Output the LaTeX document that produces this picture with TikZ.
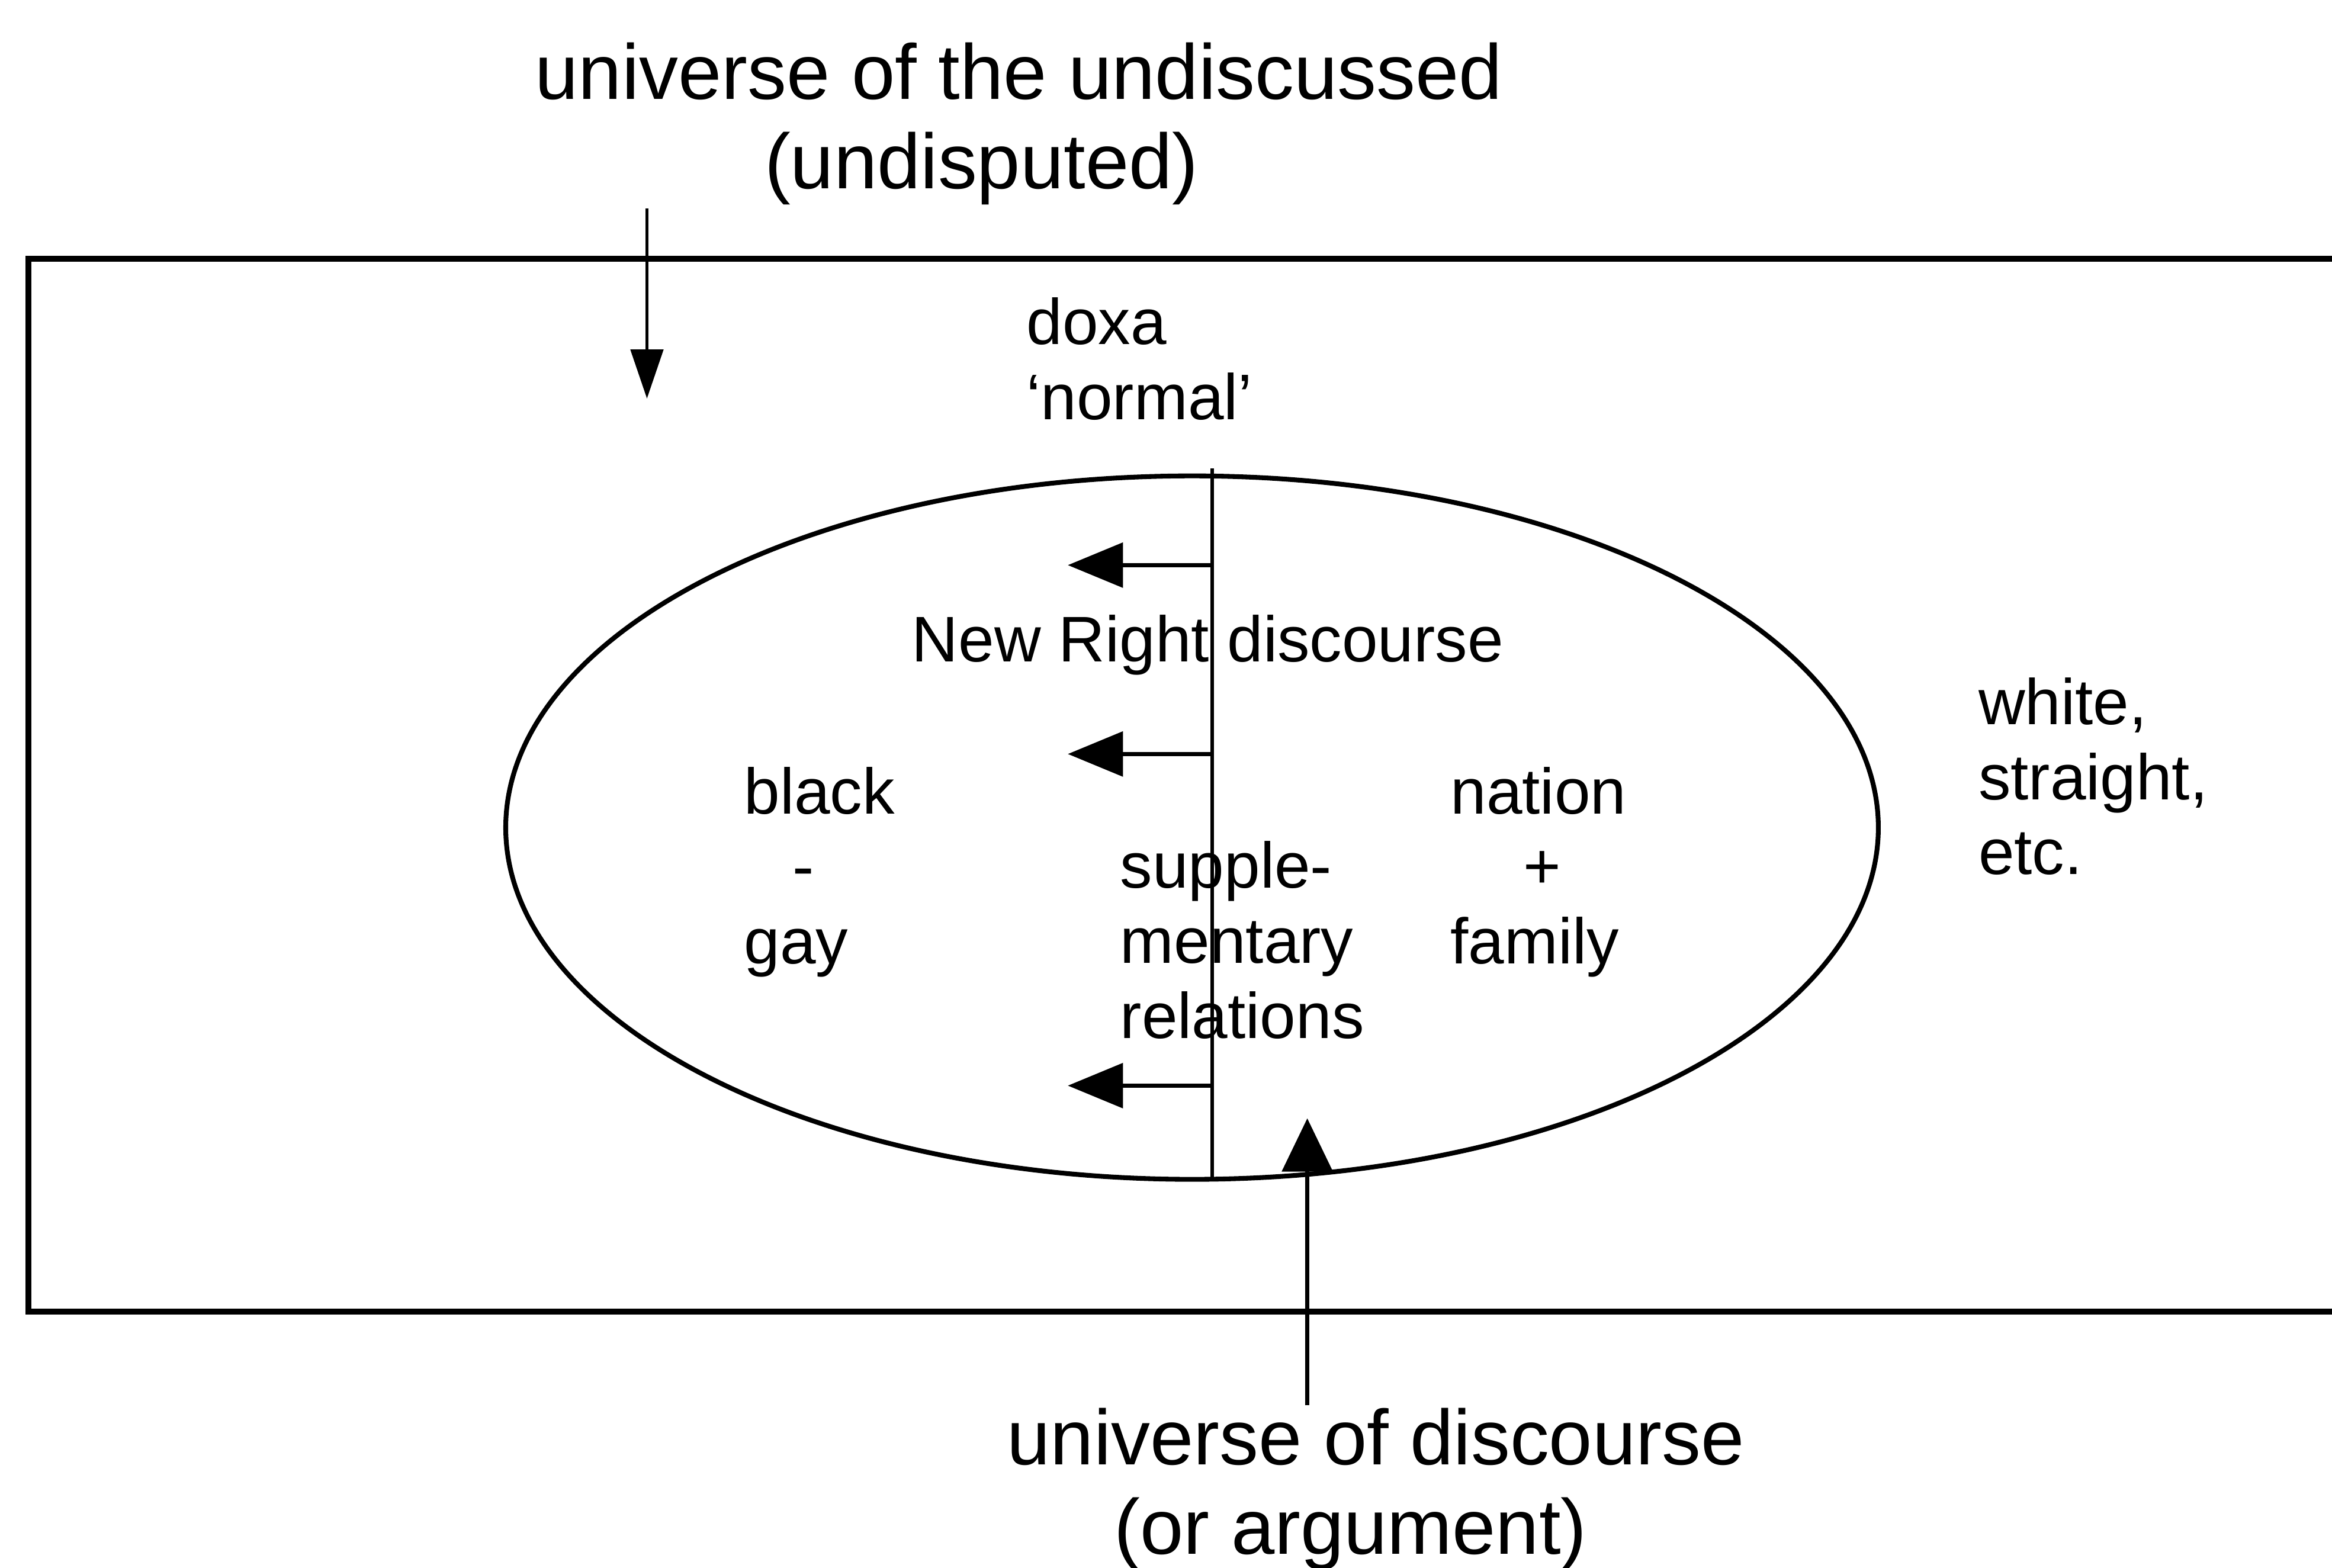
\documentclass[tikz,border=0pt]{standalone}
\usepackage{fontspec}
\setmainfont{Liberation Sans}
\usetikzlibrary{arrows.meta, shapes.geometric}

\begin{document}
\begin{tikzpicture}[
      x=0.025115cm, y=-0.025115cm,
      word/.style={inner sep=0pt, align=left, font=\fontsize{31}{36}\selectfont},
      caption/.style={inner sep=0pt, align=center, font=\fontsize{37.5}{43}\selectfont},
      frame/.style={draw, line width=2.9pt},
      push/.style={-{Triangle[length=0.93cm, width=0.75cm]}, line width=2pt}
    ]
    \useasboundingbox (0,0) rectangle (1568,1054);
    \clip (0,0) rectangle (1568,1054);

    % the undiscussed: a box running off the right edge
    \node[frame, anchor=north west, minimum width=40cm, minimum height=17.78cm] (doxa) at (17,172) {};
    \node[draw, ellipse, inner sep=0pt, line width=2.3pt,
          minimum width=23.18cm, minimum height=11.88cm] (field) at (801.5,556.5) {};

    % base of a node with several lines is its last line
    \node[caption, anchor=base] (undisc) at (685,127) {universe of the undiscussed\\(undisputed)\rule{1.26cm}{0pt}};
    \node[caption, anchor=base] (disc) at (925,1045) {universe of discourse\\(or argument)\rule{0.85cm}{0pt}};

    \node[word, anchor=base west] (normal) at (690,282) {doxa\\‘normal’};
    \node[word, anchor=base] (newright) at (812,445) {New Right discourse};
    \node[word, anchor=base west] (black) at (500,648) {black\\\hspace{0.75em}-\\gay};
    \node[word, anchor=base west] (nation) at (975,648) {nation\\\hspace{1.13em}+\\family};
    \node[word, anchor=base west] (supp) at (753,698) {supple-\\mentary\\relations};
    \node[word, anchor=base west] (white) at (1330,588) {white,\\straight,\\etc.};

    % the line between the two sides
    \coordinate (divtop) at (815,315);
    \coordinate (divbot) at (815,793);
    \draw[line width=1.5pt] (divtop) -- (divbot);

    \foreach \y [count=\i] in {380,507,730} {
      \coordinate (src\i) at (815,\y);
      \coordinate (tip\i) at (718,\y);
      \draw[push] (src\i) -- (tip\i);
    }

    \coordinate (downfrom) at (435,140);
    \coordinate (downto) at (435,268);
    \draw[-{Triangle[length=0.83cm, width=0.55cm]}, line width=1.5pt] (downfrom) -- (downto);

    \coordinate (upfrom) at (879,945);
    \coordinate (upto) at (879,752);
    \draw[-{Triangle[length=0.9cm, width=0.85cm]}, line width=2pt] (upfrom) -- (upto);
  \end{tikzpicture}
\end{document}
